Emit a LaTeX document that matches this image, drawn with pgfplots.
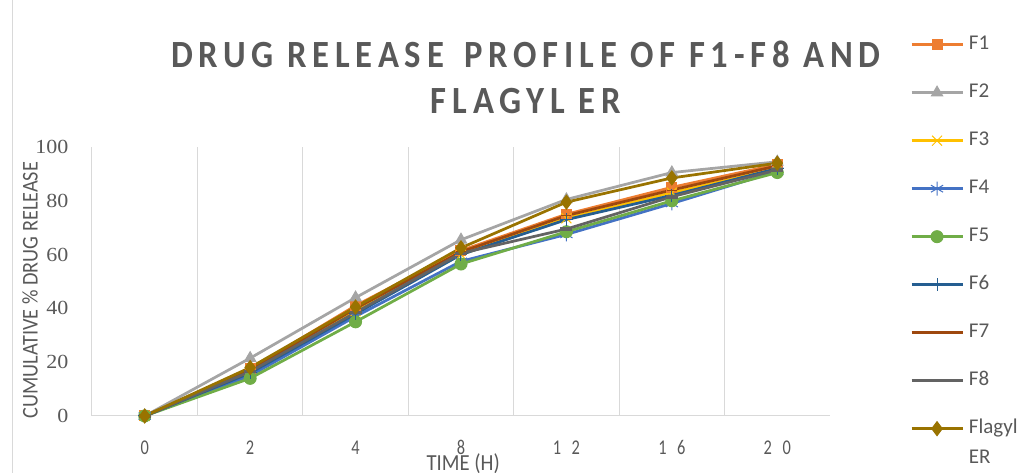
\documentclass[border=0pt]{standalone}
\usepackage{pgfplots}
\pgfplotsset{compat=1.18}
\usepackage{fontspec}
\setmainfont{Carlito}
\newfontfamily\titlefont[LetterSpace=15,FakeStretch=0.9]{Carlito}
\newfontfamily\xtickfont[FakeStretch=0.78,LetterSpace=50]{Carlito}
\newfontfamily\ytickfont[FakeStretch=1.1]{Liberation Serif}
\newfontfamily\labelfont[FakeStretch=0.9]{Carlito}
\definecolor{cFa}{HTML}{ED7D31}
\definecolor{cFb}{HTML}{A5A5A5}
\definecolor{cFc}{HTML}{FFC000}
\definecolor{cFd}{HTML}{4472C4}
\definecolor{cFe}{HTML}{70AD47}
\definecolor{cFf}{HTML}{255E91}
\definecolor{cFg}{HTML}{9E480E}
\definecolor{cFh}{HTML}{636363}
\definecolor{cFl}{HTML}{997300}
\definecolor{txtgray}{HTML}{595959}
\definecolor{gridgray}{HTML}{D9D9D9}
\begin{document}
\begin{tikzpicture}[x=1pt,y=1pt]
\path[use as bounding box] (0,0) rectangle (1026,473);
\draw[gridgray, line width=1pt] (12,0) -- (12,473);
\node[anchor=base, text=txtgray, font=\titlefont\bfseries\fontsize{38.5}{44}\selectfont] at (526,405) {DRUG RELEASE\hspace{7pt} PROFILE OF F1-F8 AND};
\node[anchor=base, text=txtgray, font=\titlefont\bfseries\fontsize{38.5}{44}\selectfont] at (526,359) {FLAGYL ER};
\begin{axis}[
  at={(92pt,57pt)}, anchor=south west,
  width=738pt, height=269pt, scale only axis,
  xmin=-0.5, xmax=6.5, ymin=0, ymax=100,
  xtick={0,...,6}, xticklabels={0,2,4,8,12,16,20},
  minor xtick={0.5,1.5,2.5,3.5,4.5,5.5},
  xminorgrids, minor x grid style={draw=gridgray, line width=1pt},
  ytick={0,20,...,100},
  major tick length=0, minor tick length=0,
  axis x line*=bottom, axis y line*=left,
  axis line style={draw=gridgray, line width=1pt, -},
  clip=false,
  /pgf/number format/assume math mode=true,
  xticklabel style={font=\xtickfont\fontsize{21}{24}\selectfont, text=txtgray, yshift=-21pt},
  yticklabel style={font=\ytickfont\fontsize{20}{22}\selectfont, text=txtgray, xshift=-20pt},
  xlabel={TIME (H)}, ylabel={CUMULATIVE \% DRUG RELEASE},
  every axis x label/.style={at={(axis description cs:0.503,-0.178)}, anchor=center, font=\labelfont\fontsize{23}{24}\selectfont, text=txtgray},
  every axis y label/.style={at={(axis description cs:-0.084,0.468)}, anchor=center, rotate=90, font=\labelfont\fontsize{22.5}{24}\selectfont, text=txtgray},
  legend style={at={(1.1043,1.422)}, anchor=north west, draw=none, fill=none,
    font=\fontsize{21}{25}\selectfont, text=txtgray, row sep=30pt, column sep=5pt,
    nodes={inner sep=0pt, text height=14pt, text depth=4pt}},
  legend cell align=left,
  legend image code/.code={\draw[mark repeat=2,mark phase=2,#1] plot coordinates {(0pt,0pt) (25.5pt,0pt) (51pt,0pt)};},
  every axis plot/.append style={line width=2.75pt},
]
\addplot[cFa, mark=square*, mark size=5pt, mark options={solid, fill=cFa, line width=1pt}] coordinates {(0,0) (1,17.5) (2,41) (3,61.5) (4,75) (5,85) (6,93.5)};
\addlegendentry{F1}
\addplot[cFb, mark=triangle*, mark size=6.5pt, mark options={solid, fill=cFb, line width=1pt}] coordinates {(0,0) (1,21.5) (2,44) (3,65.5) (4,80.5) (5,90.5) (6,94.5)};
\addlegendentry{F2}
\addplot[cFc, mark=x, mark size=7pt, mark options={solid, line width=1pt}] coordinates {(0,0) (1,16.5) (2,39) (3,60) (4,73.5) (5,83) (6,92)};
\addlegendentry{F3}
\addplot[cFd, mark=asterisk, mark size=7pt, mark options={solid, line width=1pt}] coordinates {(0,0) (1,15) (2,37) (3,57.5) (4,67.5) (5,79) (6,91)};
\addlegendentry{F4}
\addplot[cFe, mark=*, mark size=6pt, mark options={solid, fill=cFe, line width=1pt}] coordinates {(0,0) (1,14) (2,35) (3,56.5) (4,68.5) (5,80) (6,90.5)};
\addlegendentry{F5}
\addplot[cFf, mark=+, mark size=6.5pt, mark options={solid, line width=1pt}] coordinates {(0,0) (1,16) (2,38) (3,60) (4,73) (5,82) (6,92)};
\addlegendentry{F6}
\addplot[cFg, mark=-, mark size=5pt, mark options={solid, line width=1pt}] coordinates {(0,0) (1,17) (2,40) (3,61) (4,74.5) (5,84) (6,93)};
\addlegendentry{F7}
\addplot[cFh, mark=-, mark size=6pt, mark options={solid, line width=3.5pt}] coordinates {(0,0) (1,16.5) (2,38.5) (3,60.5) (4,69.5) (5,81.5) (6,91.5)};
\addlegendentry{F8}
\addplot[cFl, mark=diamond*, mark size=7pt, mark options={solid, fill=cFl, line width=1pt}] coordinates {(0,0) (1,18) (2,40.5) (3,62.5) (4,79.5) (5,88.5) (6,94)};
\addlegendentry{\begin{tabular}[t]{@{}l@{}}Flagyl\\[5pt]ER\end{tabular}}
\end{axis}
\end{tikzpicture}
\end{document}
